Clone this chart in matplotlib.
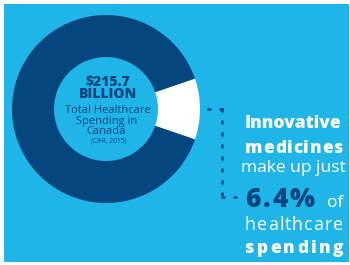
import matplotlib
matplotlib.use("Agg")
import matplotlib.pyplot as plt
from matplotlib.patches import Rectangle

# ---- data ----
slice_labels = ["Innovative medicines", "Other healthcare spending"]
slice_sizes_drawn = [10.5, 89.5]      # wedge size as drawn in the picture
headline_pct = "6.4%"
total_amount = "$215.7"
total_unit = "BILLION"
center_lines = ["Total Healthcare", "Spending in", "Canada"]
source_text = "(CIHI, 2015)"

BG = "#1fb5e9"
NAVY = "#06467f"
WHITE = "#ffffff"

W, H = 350, 265
fig = plt.figure(figsize=(W / 100, H / 100), dpi=100)
fig.patch.set_facecolor("white")
ax = fig.add_axes([0, 0, 1, 1])
ax.set_axis_off()

ax.add_patch(Rectangle((4, 4), 345, 258, facecolor=BG, edgecolor="none", zorder=0))

cx, cy, R, r_in = 106, 109, 94, 52
half = slice_sizes_drawn[0] / 100 * 360 / 2
ax.pie(slice_sizes_drawn, colors=[WHITE, NAVY], startangle=-half, counterclock=True,
       center=(cx, cy), radius=R,
       wedgeprops=dict(width=R - r_in, edgecolor="none", linewidth=0))

ax.set_xlim(0, W)
ax.set_ylim(H, 0)
ax.set_aspect("equal")

FONT = "Open Sans"
renderer = fig.canvas.get_renderer()


def char_widths(s, **kw):
    ws = []
    for ch in s:
        if ch == " ":
            t2 = ax.text(0, 0, "a a", **kw)
            t3 = ax.text(0, 0, "aa", **kw)
            w = (t2.get_window_extent(renderer=renderer).width
                 - t3.get_window_extent(renderer=renderer).width)
            t2.remove(); t3.remove()
        else:
            t = ax.text(0, 0, ch, **kw)
            w = t.get_window_extent(renderer=renderer).width
            t.remove()
        ws.append(w)
    return ws


def fit_text(x0, x1, y, s, **kw):
    """Draw s along baseline y, spread to span x0..x1 (px)."""
    ws = char_widths(s, **kw)
    nat = sum(ws)
    gap = (x1 - x0 - nat) / max(len(s) - 1, 1)
    if gap < 0.6:
        ax.text((x0 + x1) / 2, y, s, ha="center", va="baseline", **kw)
        return
    x = x0
    for ch, w in zip(s, ws):
        if ch != " ":
            ax.text(x, y, ch, ha="left", va="baseline", **kw)
        x += w + gap


# centre text
ckw = dict(color=NAVY, family=FONT)
fit_text(86, 129, 85, total_amount, fontsize=10, fontweight="heavy", **ckw)
fit_text(81, 134, 98, total_unit, fontsize=10, fontweight="heavy", **ckw)
fit_text(67, 148, 113, center_lines[0], fontsize=8, **ckw)
fit_text(77, 136, 124, center_lines[1], fontsize=8, **ckw)
fit_text(88, 125, 134, center_lines[2], fontsize=8, **ckw)
fit_text(93, 124, 143, source_text, fontsize=4.8, **ckw)

# dotted connector
dot_kw = dict(color=NAVY, linestyle=(0, (0.8, 4)), linewidth=1.8,
              dash_capstyle="round", solid_capstyle="round")
ax.plot([208, 222], [109, 109], **dot_kw)
ax.plot([222, 222], [109, 197], **dot_kw)
ax.plot([222, 237], [197, 197], **dot_kw)

# right text block
wkw = dict(color=WHITE, family=FONT)
fit_text(243, 343, 128, "Innovative", fontsize=12.5, fontweight="heavy", **wkw)
fit_text(245, 343, 153, "medicines", fontsize=12.5, fontweight="heavy", **wkw)
fit_text(244, 343, 172, "make up just", fontsize=12.5, **wkw)
fit_text(245, 315, 207, headline_pct, fontsize=19, fontweight="heavy", color=NAVY, family=FONT)
fit_text(327, 343, 207, "of", fontsize=12.5, **wkw)
fit_text(245, 343, 230, "healthcare", fontsize=13, **wkw)
fit_text(245, 343, 253, "spending", fontsize=12.5, fontweight="heavy", **wkw)

fig.savefig("out.png", dpi=100, facecolor=fig.get_facecolor())
